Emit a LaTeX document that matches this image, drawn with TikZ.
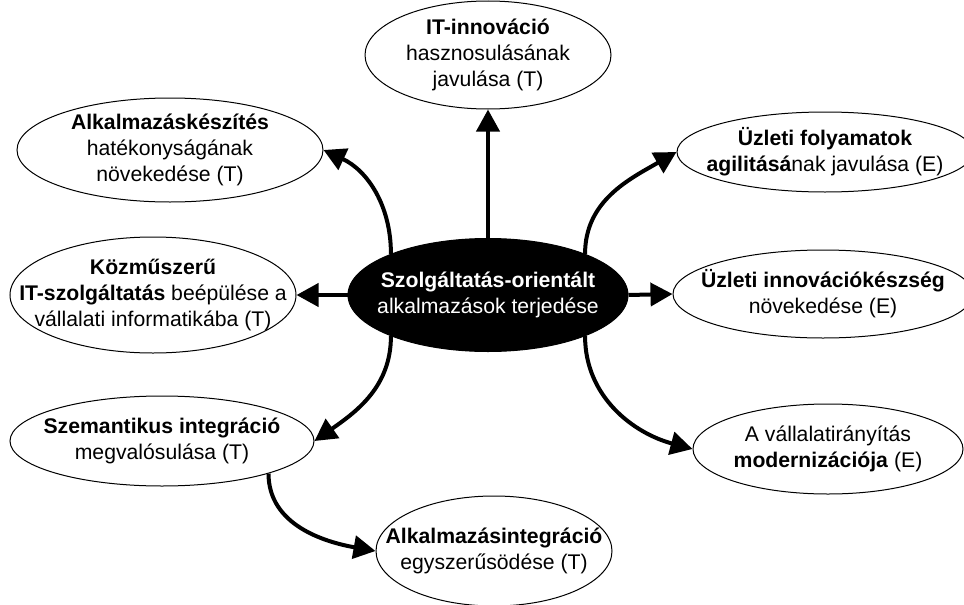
\documentclass[tikz,border=0pt]{standalone}
\usepackage{fontspec}
\setmainfont{Liberation Sans}
\usepackage{tikz}
\usetikzlibrary{shapes.geometric,arrows.meta}

\tikzset{
	goal/.style={
		draw=black,          % thin black border
		line width=0.5pt,
		fill=white,
		ellipse,             % shape
		inner xsep=-30pt,    % let the ellipse size rule, not the text
		inner ysep=-8pt,
		align=center,
		font=\fontsize{10.6}{13}\selectfont
	},
	hub/.style={
		goal,
		fill=black,
		text=white
	},
	leads/.style={
		line width=2pt,
		-{Triangle[length=11pt,width=11.5pt]}
	}
}

\begin{document}
\begin{tikzpicture}[x=0.5pt,y=-0.5pt]
	\useasboundingbox (0,0) rectangle (964,605);

	% centre
	\node[hub,minimum width=140pt,minimum height=56.5pt] (soa) at (488,295)
		{\textbf{Szolgáltatás-orientált}\\alkalmazások terjedése};

	% technical effects (T)
	\node[goal,minimum width=123pt,minimum height=54pt] (itinnov) at (488,55)
		{\textbf{IT-innováció}\\hasznosulásának\\javulása (T)};
	\node[goal,minimum width=153pt,minimum height=52pt] (alkkesz) at (170,150)
		{\textbf{Alkalmazáskészítés}\\hatékonyságának\\növekedése (T)};
	\node[goal,minimum width=143pt,minimum height=58pt] (kozmu) at (153,295)
		{\textbf{Közműszerű}\\\textbf{IT-szolgáltatás} beépülése a\\vállalati informatikába (T)};
	\node[goal,minimum width=152pt,minimum height=45pt] (szem) at (162,441)
		{\textbf{Szemantikus integráció}\\megvalósulása (T)};
	\node[goal,minimum width=118pt,minimum height=55pt] (integ) at (494,551)
		{\textbf{Alkalmazásintegráció}\\egyszerűsödése (T)};

	% business effects (E)
	\node[goal,minimum width=148pt,minimum height=40pt] (folyam) at (825,152)
		{\textbf{Üzleti folyamatok}\\\textbf{agilitásá}nak javulása (E)};
	\node[goal,minimum width=150pt,minimum height=44pt] (innkesz) at (823,294)
		{\textbf{Üzleti innovációkészség}\\növekedése (E)};
	\node[goal,minimum width=135pt,minimum height=45pt] (vallir) at (828,449)
		{A vállalatirányítás\\\textbf{modernizációja} (E)};

	% arrows
	\draw[leads] (soa.north) -- (itinnov.south);
	\draw[leads] (soa.157) to[out=90,in=-25] (alkkesz.east);
	\draw[leads] (soa.west) -- (kozmu.east);
	\draw[leads] (soa.203) to[out=-90,in=35] (szem.east);
	\draw[leads] (szem.-17) to[out=-90,in=170] (integ.west);
	\draw[leads] (soa.23) to[out=90,in=-150] (folyam.west);
	\draw[leads] (soa.east) -- (innkesz.west);
	\draw[leads] (soa.-23) to[out=-90,in=165] (vallir.west);
\end{tikzpicture}
\end{document}
